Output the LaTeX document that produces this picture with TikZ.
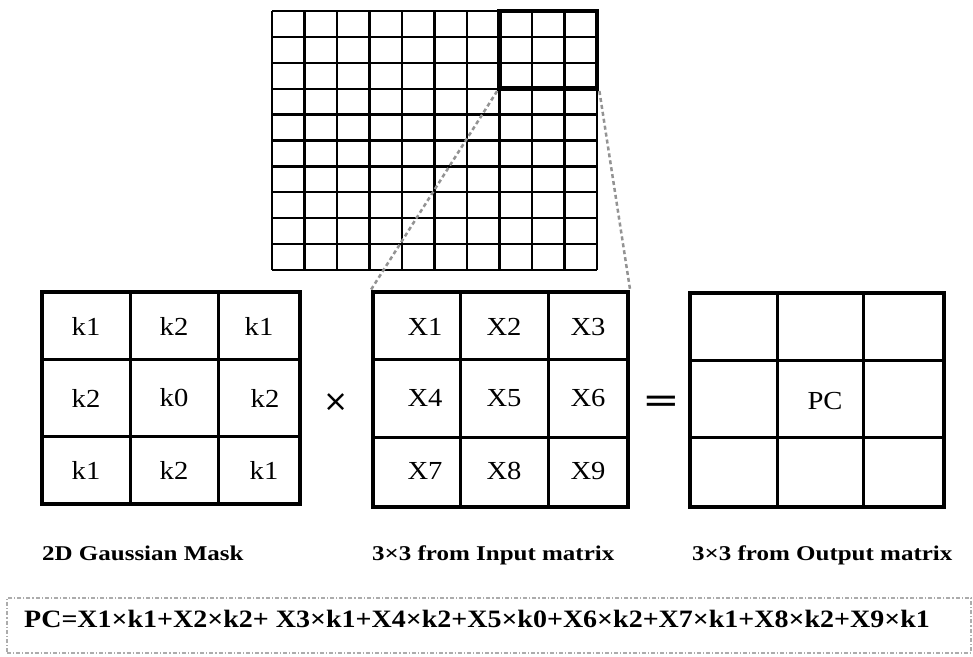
\documentclass[tikz,border=0pt]{standalone}
\usepackage{fontspec}
\setmainfont{Liberation Serif}
\newfontfamily\cellfont[FakeStretch=1.1]{Liberation Serif}
\newfontfamily\labfont[FakeStretch=1.19]{Liberation Serif}
\newfontfamily\formfont[FakeStretch=1.12]{Liberation Serif}
\newfontfamily\opfont{DejaVu Sans}
\begin{document}
\begin{tikzpicture}[x=1pt,y=-1pt,
  gridline/.style={line width=2.3pt,black},
  hlbox/.style={draw,line width=4.8pt,inner sep=0pt,minimum width=97.5pt,minimum height=77.7pt},
  matbox/.style={draw,line width=4.2pt,inner sep=0pt},
  innerline/.style={line width=3pt},
  cell/.style={inner sep=0pt,font=\cellfont\fontsize{26}{26}\selectfont},
  lab/.style={inner sep=0pt,anchor=base west,font=\labfont\bfseries\fontsize{21}{21}\selectfont},
  conn/.style={gray!85,line width=2.5pt,dash pattern=on 4pt off 3pt},
  fboxst/.style={draw=gray!65,line width=1.5pt,dash pattern=on 4pt off 2pt on 1.2pt off 2pt,inner sep=0pt,minimum width=964pt,minimum height=55pt}
]
\useasboundingbox (0,0) rectangle (973,656);
\fill[white] (0,0) rectangle (973,656);

% input image grid
\foreach \i in {0,...,10} \draw[gridline] ({272+32.5*\i},11) -- ({272+32.5*\i},270);
\foreach \j in {0,...,10} \draw[gridline] (272,{11+25.9*\j}) -- (597,{11+25.9*\j});
\node[hlbox] (hl) at (548.25,49.85) {};

% 2D Gaussian mask
\node[matbox,minimum width=258pt,minimum height=212pt] (mask) at (171,398) {};
\draw[innerline] (130,292) -- (130,504);
\draw[innerline] (218,292) -- (218,504);
\draw[innerline] (42,359) -- (300,359);
\draw[innerline] (42,436) -- (300,436);
\node[cell] (k11) at (86,326) {k1};
\node[cell] (k12) at (174,326) {k2};
\node[cell] (k13) at (259,326) {k1};
\node[cell] (k21) at (86,398) {k2};
\node[cell] (k22) at (174,398) {k0};
\node[cell] (k23) at (265,398) {k2};
\node[cell] (k31) at (86,470) {k1};
\node[cell] (k32) at (174,470) {k2};
\node[cell] (k33) at (264,470) {k1};

\node[inner sep=0pt,font=\opfont\fontsize{30}{30}\selectfont] (times) at (336,403) {×};

% input 3x3
\node[matbox,minimum width=255pt,minimum height=215pt] (inmat) at (500.5,399.5) {};
\draw[innerline] (460,292) -- (460,507);
\draw[innerline] (548,292) -- (548,507);
\draw[innerline] (373,359) -- (628,359);
\draw[innerline] (373,437) -- (628,437);
\node[cell] (x1) at (425,327) {X1};
\node[cell] (x2) at (504,327) {X2};
\node[cell] (x3) at (588,327) {X3};
\node[cell] (x4) at (425,398) {X4};
\node[cell] (x5) at (504,398) {X5};
\node[cell] (x6) at (588,398) {X6};
\node[cell] (x7) at (425,471) {X7};
\node[cell] (x8) at (504,471) {X8};
\node[cell] (x9) at (588,471) {X9};

\node[inner sep=0pt,font=\opfont\fontsize{36}{36}\selectfont] (eq) at (661,404) {\scalebox{1.25}[1]{=}};

% output 3x3
\node[matbox,minimum width=254pt,minimum height=214pt] (outmat) at (817,400) {};
\draw[innerline] (777,293) -- (777,507);
\draw[innerline] (863,293) -- (863,507);
\draw[innerline] (690,360) -- (944,360);
\draw[innerline] (690,437) -- (944,437);
\node[cell] (pc) at (825,401) {PC};

% zoom connectors
\draw[conn] (hl.south west) -- (inmat.north west);
\draw[conn] (hl.south east) -- (inmat.north east);

% labels
\node[lab] (l1) at (42,560) {2D Gaussian Mask};
\node[lab] (l2) at (372,560) {3×3 from Input matrix};
\node[lab] (l3) at (692,560) {3×3 from Output matrix};

% formula
\node[fboxst] (fbox) at (489,625.5) {};
\node[inner sep=0pt,anchor=west,font=\formfont\bfseries\fontsize{25}{25}\selectfont] (formula) at (24,619) {PC=X1×k1+X2×k2+ X3×k1+X4×k2+X5×k0+X6×k2+X7×k1+X8×k2+X9×k1};
\end{tikzpicture}
\end{document}
